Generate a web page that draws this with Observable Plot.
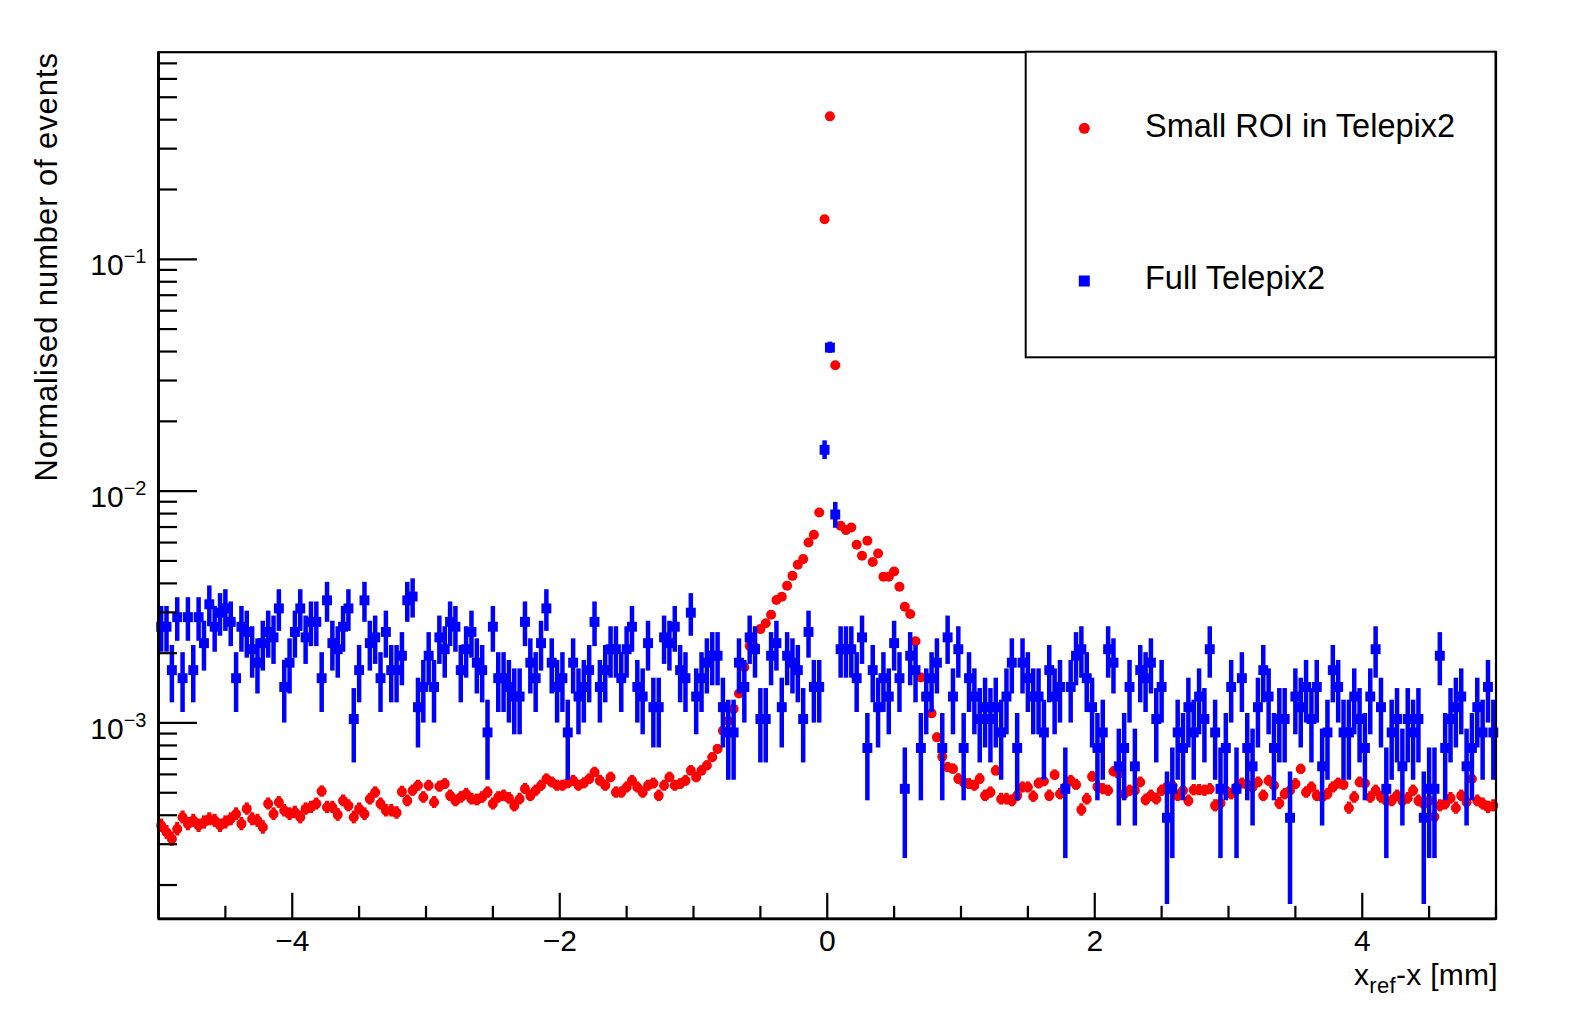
<!DOCTYPE html>
<html>
<head>
<meta charset="utf-8">
<script src="https://cdn.jsdelivr.net/npm/d3@7"></script>
<script src="https://cdn.jsdelivr.net/npm/@observablehq/plot@0.6"></script>
<style>
  html, body { margin: 0; padding: 0; background: #fff; overflow: hidden; }
  #chart svg { display: block; background: #fff; }
</style>
</head>
<body>
<div id="chart"></div>
<script>
// ---------------- DATA ----------------
// Histogram binning (x_ref - x in mm)
const xMin = -5, xMax = 5, nBins = 250;

// Red series: "Small ROI in Telepix2", normalised content per bin, in units of 1e-4
const redE4 = [
3.61,3.38,3.16,3.49,3.92,3.67,3.79,3.61,3.73,3.85,
3.79,3.61,3.73,3.85,4.05,3.67,4.26,3.85,3.79,3.55,
4.48,4.05,4.55,4.19,4.05,4.12,3.92,4.26,4.33,4.48,
5.07,4.33,4.33,4.02,4.62,4.40,3.92,4.26,4.05,4.70,
5.02,4.48,4.19,4.19,4.10,5.05,4.62,5.11,5.37,4.78,
5.37,4.55,5.32,5.46,4.86,4.62,4.78,4.94,4.70,4.66,
4.78,5.02,4.48,4.78,4.86,4.74,4.40,4.70,5.20,4.86,
5.11,5.37,5.73,5.55,5.37,5.37,5.50,5.64,5.37,5.50,
5.73,6.13,5.64,5.37,5.83,5.02,5.02,5.28,5.64,5.28,
5.02,5.37,5.49,4.86,5.37,5.83,5.37,5.46,5.64,6.23,
5.83,6.23,6.55,7.11,7.73,9.26,10.2,11.5,13.4,17.4,
21.5,21.2,25.4,26.9,29.3,33.9,35.0,39.1,43.1,48.1,
50.9,60.0,64.8,80.9,1487,4135,349,70.9,67.9,69.7,
58.7,52.6,61.1,49.5,53.8,42.7,42.7,45.0,38.7,31.7,
29.5,22.5,15.7,13.0,11.0,8.67,7.16,6.44,6.34,5.74,
5.55,5.46,5.37,5.74,4.86,5.02,6.23,4.70,4.70,4.62,
4.86,5.28,5.28,4.82,5.49,5.61,4.86,5.97,4.94,5.28,
5.64,5.42,4.22,4.70,5.87,5.31,5.19,5.11,6.18,6.03,
4.94,5.11,5.11,5.55,4.66,4.86,4.70,5.11,5.31,5.37,
4.86,5.11,4.62,5.14,5.14,5.11,5.19,4.40,4.50,5.11,
4.94,5.28,5.49,5.42,5.28,5.55,4.86,5.64,5.37,4.50,
4.94,5.11,5.46,6.33,5.02,5.28,4.86,4.78,4.94,5.28,
5.49,5.42,4.30,4.78,5.55,5.49,4.78,5.11,4.78,4.62,
4.62,4.86,4.62,4.74,5.11,4.62,4.48,4.62,3.94,4.40,
4.48,4.74,4.30,4.86,4.55,5.73,4.62,4.48,4.33,4.40
];
const redUnit = 1e-4;
const redEventWeight = 1.6e-6;   // normalisation weight per event (red)

// Blue series: "Full Telepix2", raw counts per bin and normalisation weight per event
const blueCounts = [
20,20,13,22,12,22,13,22,17,25,
20,23,24,21,12,20,19,16,14,17,
19,18,24,11,14,19,24,18,21,21,
12,26,17,16,20,24,8,13,26,17,
18,12,19,13,13,15,26,27,9,11,
15,11,18,16,21,20,13,16,19,14,
13,7,20,12,12,11,10,10,21,14,
12,17,24,14,11,12,7,14,10,11,
13,21,11,13,16,16,12,16,20,11,
10,17,9,9,18,17,20,13,12,23,
10,12,14,15,15,9,7,7,14,11,
18,16,8,8,15,17,9,15,14,13,
8,19,11,11,116,320,61,16,16,16,
12,18,6,13,9,12,10,17,12,4,
15,13,6,10,12,14,6,18,10,16,
6,12,10,8,9,8,9,7,10,14,
6,14,12,10,10,7,13,10,11,4,
11,15,16,12,9,6,7,16,14,5,
6,11,5,13,12,14,8,11,3,4,
7,6,9,7,10,8,16,7,4,6,
11,4,12,6,5,9,13,10,6,8,
8,3,10,9,11,8,11,5,7,13,
11,7,7,10,8,6,10,16,9,4,
7,8,5,8,7,8,3,4,4,15,
6,8,9,10,5,6,9,7,11,7
];
const blueEventWeight = 1.3e-4;

// Axes
const yMin = 1.43e-4, yMax = 0.782;
const xMajorTicks = [-4, -2, 0, 2, 4];
const xMajorLabels = ["\u22124", "\u22122", "0", "2", "4"];
const xMinorTicks = [-5, -4.5, -3.5, -3, -2.5, -1.5, -1, -0.5, 0.5, 1, 1.5, 2.5, 3, 3.5, 4.5, 5];
const yMajorTicks = [1e-3, 1e-2, 1e-1];
const yMajorLabels = ["10^\u22123", "10^\u22122", "10^\u22121"];
const yMinorMantissas = [2, 3, 4, 5, 6, 7, 8, 9];
const yMinorDecades = [1e-4, 1e-3, 1e-2, 1e-1];

const seriesNames = ["Small ROI in Telepix2", "Full Telepix2"];
const xTitle = "x_ref-x [mm]";
const yTitle = "Normalised number of events";

// ---------------- BUILD ----------------
const W = 1578, H = 1021;
const mL = 158, mR = 82.5, mT = 51.7, mB = 102.7;
const FONT = "'Liberation Sans', Arial, Helvetica, sans-serif";
const RED = "#ff0000", BLUE = "#0000ff";

const binW = (xMax - xMin) / nBins;
const centers = d3.range(nBins).map(i => xMin + binW * (i + 0.5));

const red = centers.map((x, i) => {
  const v = redE4[i] * redUnit;
  const s = Math.sqrt(v * redEventWeight);
  return {x, v, lo: v - s, hi: v + s};
});
const blue = centers.map((x, i) => {
  const n = blueCounts[i];
  const v = n * blueEventWeight;
  const s = Math.sqrt(n) * blueEventWeight;
  return {x, v, lo: Math.max(v - s, yMin), hi: v + s};
});

const yMinor = [];
for (const d of yMinorDecades) for (const m of yMinorMantissas) {
  const t = m * d;
  if (t > yMin && t < yMax) yMinor.push(t);
}

const pxPerX = (W - mL - mR) / (xMax - xMin);
const decPerPx = Math.log10(yMax / yMin) / (H - mT - mB);
const xLen = px => xMin + px / pxPerX;
const yLen = px => yMin * Math.pow(10, px * decPerPx);

const chart = Plot.plot({
  width: W, height: H,
  marginLeft: mL, marginRight: mR, marginTop: mT, marginBottom: mB,
  style: {background: "#fff", fontFamily: FONT},
  x: {domain: [xMin, xMax], axis: null},
  y: {type: "log", domain: [yMin, yMax], axis: null},
  marks: [
    // red series
    Plot.ruleX(red, {x: "x", y1: "lo", y2: "hi", stroke: RED, strokeWidth: 4}),
    Plot.dot(red, {x: "x", y: "v", r: 5, fill: RED, stroke: null}),
    // blue series
    Plot.ruleX(blue, {x: "x", y1: "lo", y2: "hi", stroke: BLUE, strokeWidth: 4.5}),
    Plot.dot(blue, {x: "x", y: "v", r: 5.6, symbol: "square", fill: BLUE, stroke: null}),
    // frame
    Plot.frame({stroke: "#000", strokeWidth: 2.2}),
    // y ticks (inward)
    Plot.ruleY(yMajorTicks, {y: d => d, x1: xMin, x2: xLen(39), stroke: "#000", strokeWidth: 2.2}),
    Plot.ruleY(yMinor, {y: d => d, x1: xMin, x2: xLen(19), stroke: "#000", strokeWidth: 2.2}),
    // x ticks (inward)
    Plot.ruleX(xMajorTicks, {x: d => d, y1: yMin, y2: yLen(25.5), stroke: "#000", strokeWidth: 2.2}),
    Plot.ruleX(xMinorTicks, {x: d => d, y1: yMin, y2: yLen(12.5), stroke: "#000", strokeWidth: 2.2}),
    // axis lines (slightly heavier)
    Plot.ruleX([xMin], {y1: yMin, y2: yMax, stroke: "#000", strokeWidth: 2.8}),
    Plot.ruleY([yMin], {x1: xMin, x2: xMax, stroke: "#000", strokeWidth: 2.8}),
    // tick labels
    Plot.text(xMajorTicks, {x: d => d, y: () => yMin, text: (d, i) => xMajorLabels[i],
      dy: 32, lineAnchor: "bottom", textAnchor: "middle", fontSize: 30, fontFamily: FONT, fill: "#000"}),
    Plot.text(yMajorTicks, {x: () => xMin, y: d => d, text: (d, i) => yMajorLabels[i],
      dx: -12, dy: 16, lineAnchor: "bottom", textAnchor: "end", fontSize: 30, fontFamily: FONT, fill: "#000"}),
    // axis titles
    Plot.text([xTitle], {frameAnchor: "bottom-right", text: d => d, dx: 2, dy: 66.5,
      lineAnchor: "bottom", textAnchor: "end", fontSize: 30, fontFamily: FONT, fill: "#000"}),
    Plot.text([yTitle], {frameAnchor: "top-left", text: d => d, rotate: -90, dx: -111, dy: 0,
      lineAnchor: "middle", textAnchor: "end", fontSize: 31, fontFamily: FONT, fill: "#000"})
  ]
});

// rich text: superscripts / subscripts, letter spacing of the titles
d3.select(chart).selectAll("text").each(function () {
  const t = this.textContent;
  const sel = d3.select(this);
  const m = t.match(/^10\^(.+)$/);
  if (m) {
    sel.text("10");
    sel.append("tspan").attr("dy", -12).attr("font-size", 20).text(m[1]);
  } else if (t === xTitle) {
    sel.attr("letter-spacing", 0.3);
    sel.text("x");
    sel.append("tspan").attr("dy", 8).attr("font-size", 22).text("ref");
    sel.append("tspan").attr("dy", -8).attr("font-size", 30).text("-x [mm]");
  } else if (t === yTitle) {
    sel.attr("letter-spacing", 0.9);
  }
});

// legend box (ROOT TLegend style)
const lg = d3.select(chart).append("g").attr("font-family", FONT).attr("text-anchor", "start");
lg.append("rect").attr("x", 1025.7).attr("y", 51.7).attr("width", W - mR - 1025.7).attr("height", 357.3 - 51.7)
  .attr("fill", "#fff").attr("stroke", "#000").attr("stroke-width", 2);
lg.append("circle").attr("cx", 1084.3).attr("cy", 128.3).attr("r", 5.5).attr("fill", RED);
lg.append("rect").attr("x", 1084.3 - 5.5).attr("y", 281 - 5.5).attr("width", 11).attr("height", 11).attr("fill", BLUE);
lg.append("text").attr("x", 1145).attr("y", 137.3).attr("font-size", 32.5).attr("fill", "#000")
  .attr("text-anchor", "start").text(seriesNames[0]);
lg.append("text").attr("x", 1145).attr("y", 289.3).attr("font-size", 32.5).attr("fill", "#000")
  .attr("text-anchor", "start").text(seriesNames[1]);

document.getElementById("chart").appendChild(chart);
</script>
</body>
</html>
